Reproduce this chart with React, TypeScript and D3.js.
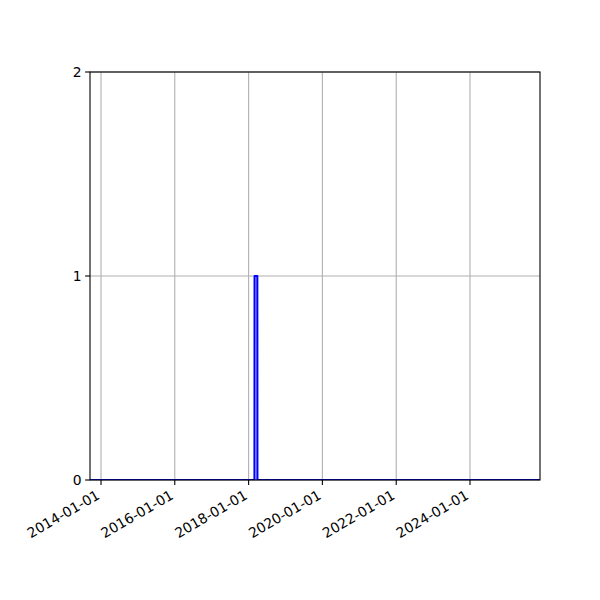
import React, { useEffect, useRef } from 'react';
import * as d3 from 'd3';

// series: dates and counts (step up and back down around early 2018)
const dates = ['2013-09-14', '2018-02-28', '2018-03-01', '2018-03-28', '2018-03-29', '2025-11-24'];
const values = [0, 0, 1, 1, 0, 0];

const xTicks = ['2014-01-01', '2016-01-01', '2018-01-01', '2020-01-01', '2022-01-01', '2024-01-01'];
const yTicks = [0, 1, 2];

const parse = d3.timeParse('%Y-%m-%d');

export default function App() {
    const width = 600;
    const height = 600;
    const marginLeft = 90;
    const marginRight = 60;
    const marginTop = 72;
    const marginBottom = 120;

    const ref = useRef(null);

    useEffect(() => {
        const svg = d3.select(ref.current);
        svg.selectAll('*').remove();

        const pts = dates.map((d, i) => [parse(d) as Date, values[i]] as [Date, number]);

        const scaleX = d3.scaleTime()
            .domain([parse(dates[0]) as Date, parse(dates[dates.length - 1]) as Date])
            .range([marginLeft, width - marginRight]);
        const scaleY = d3.scaleLinear()
            .domain([0, 2])
            .range([height - marginBottom, marginTop]);

        const font = 'DejaVu Sans, sans-serif';

        // grid
        const grid = svg.append('g');
        xTicks.forEach(t => {
            const x = scaleX(parse(t) as Date);
            grid.append('line')
                .attr('x1', x).attr('x2', x)
                .attr('y1', marginTop).attr('y2', height - marginBottom)
                .attr('stroke', '#b0b0b0').attr('stroke-width', 1.1);
        });
        yTicks.forEach(t => {
            const y = scaleY(t);
            grid.append('line')
                .attr('x1', marginLeft).attr('x2', width - marginRight)
                .attr('y1', y).attr('y2', y)
                .attr('stroke', '#b0b0b0').attr('stroke-width', 1.1);
        });

        svg.append('clipPath').attr('id', 'plotclip')
            .append('rect')
            .attr('x', marginLeft).attr('y', marginTop)
            .attr('width', width - marginLeft - marginRight)
            .attr('height', height - marginTop - marginBottom);

        const line = d3.line<[Date, number]>()
            .x(d => scaleX(d[0]))
            .y(d => scaleY(d[1]));

        svg.append('path')
            .attr('clip-path', 'url(#plotclip)')
            .attr('fill', 'none')
            .attr('stroke', '#0000ff')
            .attr('stroke-width', 2.1)
            .attr('stroke-linejoin', 'round')
            .attr('d', line(pts));

        // spines
        svg.append('rect')
            .attr('x', marginLeft).attr('y', marginTop)
            .attr('width', width - marginLeft - marginRight)
            .attr('height', height - marginTop - marginBottom)
            .attr('fill', 'none')
            .attr('stroke', 'black')
            .attr('stroke-width', 1.1);

        // x ticks + labels
        const xAxis = svg.append('g');
        xTicks.forEach(t => {
            const x = scaleX(parse(t) as Date);
            const y0 = height - marginBottom;
            xAxis.append('line')
                .attr('x1', x).attr('x2', x)
                .attr('y1', y0).attr('y2', y0 + 4.9)
                .attr('stroke', 'black').attr('stroke-width', 1.1);
            xAxis.append('text')
                .attr('transform', `translate(${x - 5.5}, ${y0 + 9}) rotate(-30)`)
                .attr('text-anchor', 'end')
                .attr('dominant-baseline', 'hanging')
                .attr('font-family', font)
                .attr('font-size', 13.9)
                .text(t);
        });

        // y ticks + labels
        const yAxis = svg.append('g');
        yTicks.forEach(t => {
            const y = scaleY(t);
            yAxis.append('line')
                .attr('x1', marginLeft - 4.9).attr('x2', marginLeft)
                .attr('y1', y).attr('y2', y)
                .attr('stroke', 'black').attr('stroke-width', 1.1);
            yAxis.append('text')
                .attr('x', marginLeft - 8.4)
                .attr('y', y)
                .attr('dy', '0.36em')
                .attr('text-anchor', 'end')
                .attr('font-family', font)
                .attr('font-size', 13.9)
                .text(t);
        });
    }, []);

    return (
        <svg ref={ref} width={width} height={height} viewBox={`0 0 ${width} ${height}`}
            style={{ position: 'absolute', left: 0, top: 0, background: 'white' }}>
        </svg>
    );
}
